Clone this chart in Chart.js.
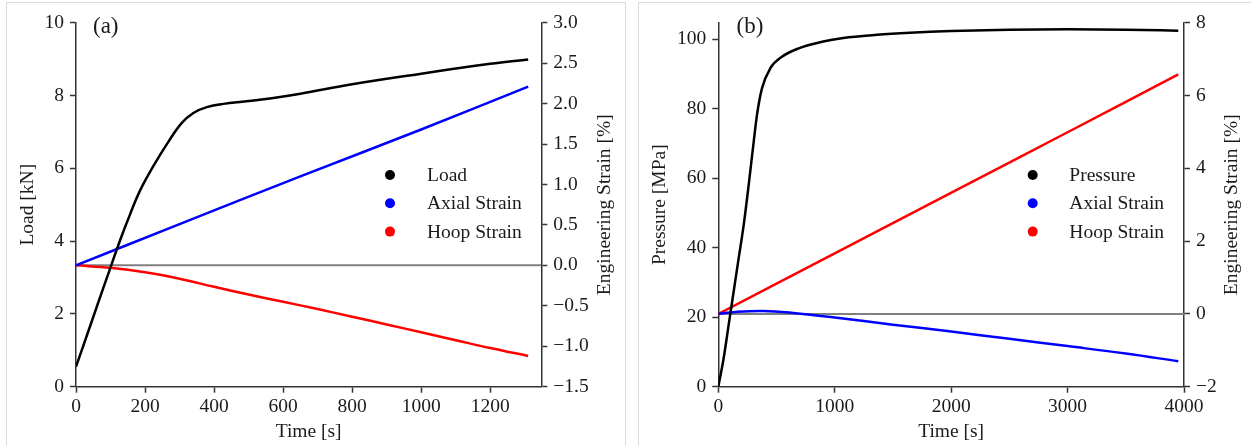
<!DOCTYPE html>
<html>
<head>
<meta charset="utf-8">
<script src="https://cdn.jsdelivr.net/npm/chart.js@4/dist/chart.umd.min.js"></script>
<style>
  html, body { margin: 0; padding: 0; background: #fff; width: 1251px; height: 446px; overflow: hidden; }
  .frame { position: absolute; border: 1px solid #dadada; box-sizing: border-box; }
  canvas { position: absolute; top: 0; }
</style>
</head>
<body>
<div class="frame" style="left:6px; top:2px; width:620px; height:470px;"></div>
<div class="frame" style="left:638px; top:2px; width:640px; height:470px;"></div>
<canvas id="loadChart" width="630" height="446" style="left:0px;"></canvas>
<canvas id="pressureChart" width="621" height="446" style="left:630px;"></canvas>
<script>
// ---------- (a) load-controlled test ----------
const timeLoadA   = [0, 32, 64, 96, 128, 156, 185, 224, 267, 306, 340, 379, 427, 494, 562, 650, 800, 1000, 1200, 1310];
const loadKN      = [0.55, 1.42, 2.30, 3.17, 4.03, 4.72, 5.38, 6.06, 6.72, 7.24, 7.52, 7.68, 7.77, 7.84, 7.92, 8.05, 8.31, 8.60, 8.87, 8.99];
const timeAxialA  = [0, 300, 650, 1000, 1310];
const axialStrainA = [0, 0.51, 1.10, 1.68, 2.21];
const timeHoopA   = [0, 100, 200, 300, 400, 500, 600, 700, 800, 900, 1000, 1100, 1200, 1310];
const hoopStrainA = [0, -0.03, -0.085, -0.165, -0.265, -0.36, -0.45, -0.54, -0.635, -0.73, -0.828, -0.925, -1.022, -1.12];
const timeTicksA   = [0, 200, 400, 600, 800, 1000, 1200];
const loadTicks    = [0, 2, 4, 6, 8, 10];
const strainTicksA = [-1.5, -1.0, -0.5, 0.0, 0.5, 1.0, 1.5, 2.0, 2.5, 3.0];
const seriesNamesA = ['Load', 'Axial Strain', 'Hoop Strain'];

// ---------- (b) pressure-controlled test ----------
const timePressureB = [0, 46, 89, 132, 175, 218, 261, 304, 332, 375, 447, 547, 690, 891, 1074, 1361, 1647, 2000, 2500, 3000, 3500, 3951];
const pressureMPa   = [0, 8.2, 17.8, 27.4, 37.0, 46.5, 58.1, 70.5, 78.2, 85.9, 91.7, 95.0, 97.4, 99.3, 100.4, 101.3, 101.9, 102.4, 102.8, 102.9, 102.8, 102.5];
const timeAxialB    = [0, 150, 387, 644, 1000, 1500, 2000, 2500, 3000, 3500, 3951];
const axialStrainB  = [0, 0.055, 0.08, 0.025, -0.10, -0.295, -0.485, -0.685, -0.885, -1.09, -1.30];
const timeHoopB     = [0, 1000, 1990, 3000, 3951];
const hoopStrainB   = [0, 1.66, 3.31, 4.99, 6.58];
const timeTicksB     = [0, 1000, 2000, 3000, 4000];
const pressureTicks  = [0, 20, 40, 60, 80, 100];
const strainTicksB   = [-2, 0, 2, 4, 6, 8];
const seriesNamesB = ['Pressure', 'Axial Strain', 'Hoop Strain'];

const SERIF = "'Liberation Serif', 'Times New Roman', 'DejaVu Serif', serif";
const INK = '#1a1a1a';
const SPINE = '#333';
const FS = 19.5;

const pts = (xs, ys) => xs.map((x, i) => ({ x: x, y: ys[i] }));
const minus = s => s.replace('-', '\u2212');

function curve(label, xs, ys, color, axisId, monotone) {
  return {
    label: label, data: pts(xs, ys), yAxisID: axisId,
    borderColor: color, backgroundColor: color, borderWidth: 2.5,
    pointRadius: 0, fill: false, inLegend: true,
    cubicInterpolationMode: monotone ? 'monotone' : 'default', tension: 0.4
  };
}
function zeroLine(xmax) {
  return {
    label: 'zero', data: [{ x: 0, y: 0 }, { x: xmax, y: 0 }], yAxisID: 'yR',
    borderColor: '#808080', borderWidth: 2, pointRadius: 0, fill: false, inLegend: false
  };
}

function scale(pos, min, max, tickVals, size, fmt) {
  const vertical = pos === 'left' || pos === 'right';
  return {
    type: 'linear', position: pos, min: min, max: max,
    afterBuildTicks: s => { s.ticks = tickVals.map(v => ({ value: v })); },
    afterFit: s => { if (vertical) { s.width = size; } else { s.height = size; } },
    ticks: {
      font: { family: SERIF, size: FS }, color: INK, padding: vertical ? 6 : 2,
      autoSkip: false, maxRotation: 0, callback: v => fmt(v)
    },
    grid: { display: true, drawOnChartArea: false, drawTicks: true, tickLength: 6, tickWidth: 1.5, tickColor: SPINE },
    border: { display: true, color: SPINE, width: 1.5 },
    title: { display: false }
  };
}

// axis titles, panel tag and legend drawn around the chart area
const panelText = {
  id: 'panelText',
  afterDraw(chart, args, o) {
    const ctx = chart.ctx, a = chart.chartArea;
    const midY = (a.top + a.bottom) / 2;
    ctx.save();
    ctx.fillStyle = INK;
    ctx.font = FS + 'px ' + SERIF;
    ctx.textAlign = 'center';
    ctx.textBaseline = 'middle';
    ctx.fillText(o.xTitle, (a.left + a.right) / 2, o.xTitleY);
    [[o.leftTitle, o.leftTitleX], [o.rightTitle, o.rightTitleX]].forEach(([t, x]) => {
      ctx.save();
      ctx.translate(x, midY);
      ctx.rotate(-Math.PI / 2);
      ctx.fillText(t, 0, 0);
      ctx.restore();
    });
    ctx.font = o.tagSize + 'px ' + SERIF;
    ctx.textAlign = 'left';
    ctx.fillText(o.tag, o.tagX, o.tagY);
    ctx.font = FS + 'px ' + SERIF;
    let row = 0;
    chart.data.datasets.forEach(ds => {
      if (!ds.inLegend) return;
      const y = o.legendY + row * o.legendStep;
      ctx.fillStyle = ds.borderColor;
      ctx.beginPath();
      ctx.arc(o.markerX, y, 5, 0, Math.PI * 2);
      ctx.fill();
      ctx.fillStyle = INK;
      ctx.fillText(ds.label, o.textX, y + 1);
      row++;
    });
    ctx.restore();
  }
};

Chart.defaults.animation = false;

new Chart(document.getElementById('loadChart'), {
  type: 'line',
  data: {
    datasets: [
      curve(seriesNamesA[0], timeLoadA, loadKN, '#000000', 'yL', false),
      curve(seriesNamesA[1], timeAxialA, axialStrainA, '#0000ff', 'yR', false),
      curve(seriesNamesA[2], timeHoopA, hoopStrainA, '#ff0000', 'yR', false),
      zeroLine(1348)
    ]
  },
  options: {
    responsive: false, devicePixelRatio: 1,
    layout: { padding: { left: 0, right: 0, top: 22.7, bottom: 0 } },
    scales: {
      x: scale('bottom', 0, 1348, timeTicksA, 59.3, v => String(v)),
      yL: scale('left', 0, 10, loadTicks, 76, v => String(v)),
      yR: scale('right', -1.5, 3.0, strainTicksA, 88.7, v => minus(v.toFixed(1)))
    },
    plugins: {
      legend: { display: false }, tooltip: { enabled: false },
      panelText: {
        xTitle: 'Time [s]', xTitleY: 431.5,
        leftTitle: 'Load [kN]', leftTitleX: 28,
        rightTitle: 'Engineering Strain [%]', rightTitleX: 605,
        tag: '(a)', tagSize: 23, tagX: 93, tagY: 27,
        markerX: 390, textX: 427, legendY: 175, legendStep: 28.3
      }
    }
  },
  plugins: [panelText]
});

new Chart(document.getElementById('pressureChart'), {
  type: 'line',
  data: {
    datasets: [
      curve(seriesNamesB[0], timePressureB, pressureMPa, '#000000', 'yL', true),
      curve(seriesNamesB[1], timeAxialB, axialStrainB, '#0000ff', 'yR', false),
      curve(seriesNamesB[2], timeHoopB, hoopStrainB, '#ff0000', 'yR', false),
      zeroLine(4000)
    ]
  },
  options: {
    responsive: false, devicePixelRatio: 1,
    layout: { padding: { left: 0, right: 0, top: 22.7, bottom: 0 } },
    scales: {
      x: scale('bottom', 0, 4000, timeTicksB, 59.3, v => String(v)),
      yL: scale('left', 0, 104.8, pressureTicks, 88.3, v => String(v)),
      yR: scale('right', -2, 8, strainTicksB, 67, v => minus(String(v)))
    },
    plugins: {
      legend: { display: false }, tooltip: { enabled: false },
      panelText: {
        xTitle: 'Time [s]', xTitleY: 431.5,
        leftTitle: 'Pressure [MPa]', leftTitleX: 30,
        rightTitle: 'Engineering Strain [%]', rightTitleX: 601.5,
        tag: '(b)', tagSize: 23, tagX: 106.5, tagY: 27,
        markerX: 402.7, textX: 439.3, legendY: 175, legendStep: 28.3
      }
    }
  },
  plugins: [panelText]
});
</script>
</body>
</html>
